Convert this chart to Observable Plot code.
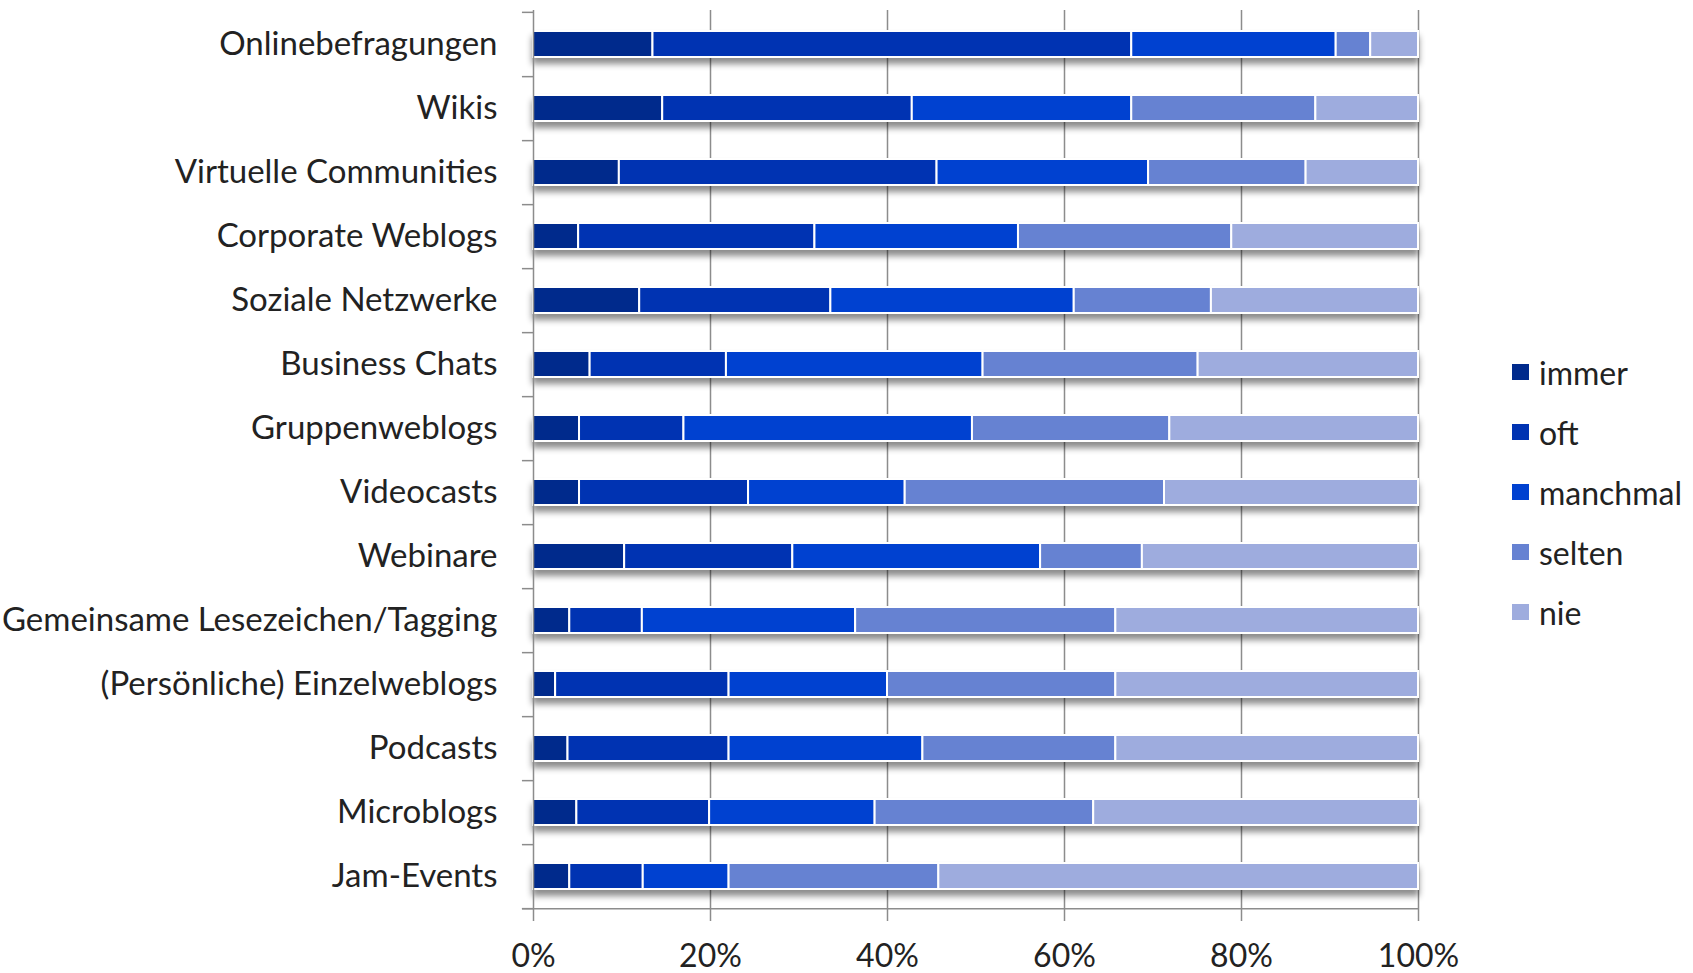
<!DOCTYPE html>
<html>
<head>
<meta charset="utf-8">
<script src="https://cdn.jsdelivr.net/npm/d3@7"></script>
<script src="https://cdn.jsdelivr.net/npm/@observablehq/plot@0.6"></script>
<style>
  html, body { margin: 0; padding: 0; background: #fff; }
  #wrap { position: relative; width: 1693px; height: 973px; font-family: Lato, "Open Sans", sans-serif; }
  #legend { position: absolute; left: 1512px; top: 342px; }
  .item { display: flex; align-items: center; height: 60px; font-size: 32px; color: #222; }
  .sw { width: 17px; height: 16px; margin-right: 10px; }
</style>
</head>
<body>
<div id="wrap"><div id="chart"></div><div id="legend"></div></div>
<script>
const categories = [
  "Onlinebefragungen", "Wikis", "Virtuelle Communities", "Corporate Weblogs",
  "Soziale Netzwerke", "Business Chats", "Gruppenweblogs", "Videocasts",
  "Webinare", "Gemeinsame Lesezeichen/Tagging", "(Persönliche) Einzelweblogs",
  "Podcasts", "Microblogs", "Jam-Events"
];
const levels = ["immer", "oft", "manchmal", "selten", "nie"];
const immer    = [13.5, 14.6,  9.7,  5.1, 12.0,  6.4,  5.2,  5.2, 10.3,  4.1,  2.5,  3.9,  4.9,  4.1];
const oft      = [54.1, 28.2, 35.9, 26.7, 21.6, 15.4, 11.8, 19.1, 19.0,  8.2, 19.6, 18.2, 15.0,  8.3];
const manchmal = [23.1, 24.8, 23.9, 23.0, 27.5, 29.0, 32.6, 17.7, 28.0, 24.1, 17.9, 21.9, 18.7,  9.7];
const selten   = [ 3.9, 20.8, 17.8, 24.1, 15.5, 24.3, 22.3, 29.3, 11.5, 29.4, 25.8, 21.8, 24.7, 23.7];
const nie      = [ 5.4, 11.6, 12.7, 21.1, 23.4, 24.9, 28.1, 28.7, 31.2, 34.2, 34.2, 34.2, 36.7, 54.2];
const tickValues = [0, 20, 40, 60, 80, 100];
const colors = ["#002a8c", "#0033b2", "#0041d0", "#6682d2", "#9eacde"];

const series = [immer, oft, manchmal, selten, nie];
const data = categories.flatMap((c, i) =>
  levels.map((l, j) => ({category: c, level: l, value: series[j][i]}))
);

const W = 1693, H = 973, mT = 10, mB = 63, mL = 533, mR = 275;
const step = (H - mT - mB) / categories.length;
const grey = "#8c8c8c";

const chart = Plot.plot({
  width: W,
  height: H,
  marginTop: mT,
  marginBottom: mB,
  marginLeft: mL,
  marginRight: mR,
  style: {fontFamily: "Lato, 'Open Sans', sans-serif", background: "#fff"},
  x: {domain: [0, 100], axis: null},
  y: {domain: categories, paddingInner: 0.6, paddingOuter: 0.3, axis: null},
  color: {domain: levels, range: colors},
  marks: [
    Plot.ruleX(tickValues.filter(v => v > 0), {stroke: grey, strokeWidth: 1.5}),
    Plot.barX(data, Plot.stackX({
      x: "value", y: "category", fill: "level", order: levels,
      stroke: "white", strokeWidth: 2
    })),
    Plot.ruleX([0], {stroke: grey, strokeWidth: 1.5}),
    Plot.ruleY(categories, {y: d => d, x1: -1.25, x2: 0, dy: step / 2, stroke: grey, strokeWidth: 1.5}),
    Plot.ruleY([categories[0]], {y: d => d, x1: -1.25, x2: 0, dy: -step / 2, stroke: grey, strokeWidth: 1.5}),
    Plot.ruleY([categories[categories.length - 1]], {y: d => d, x1: -1.25, x2: 100, dy: step / 2, stroke: grey, strokeWidth: 1.5}),
    Plot.axisX({ticks: tickValues, tickFormat: d => d + "%", tickSize: 11, tickPadding: 23,
      stroke: grey, strokeWidth: 1.5, fill: "#222", fontSize: 32, label: null}),
    Plot.axisY({tickSize: 0, tickPadding: 36, fill: "#222", fontSize: 33, label: null})
  ]
});

d3.select(chart).select('g[aria-label="bar"]')
  .style("filter", "drop-shadow(0px 6px 3px rgba(0,0,0,0.45))");

document.getElementById("chart").appendChild(chart);

const legend = d3.select("#legend");
levels.forEach((l, i) => {
  const it = legend.append("div").attr("class", "item");
  it.append("div").attr("class", "sw").style("background", colors[i]);
  it.append("span").text(l);
});
</script>
</body>
</html>
